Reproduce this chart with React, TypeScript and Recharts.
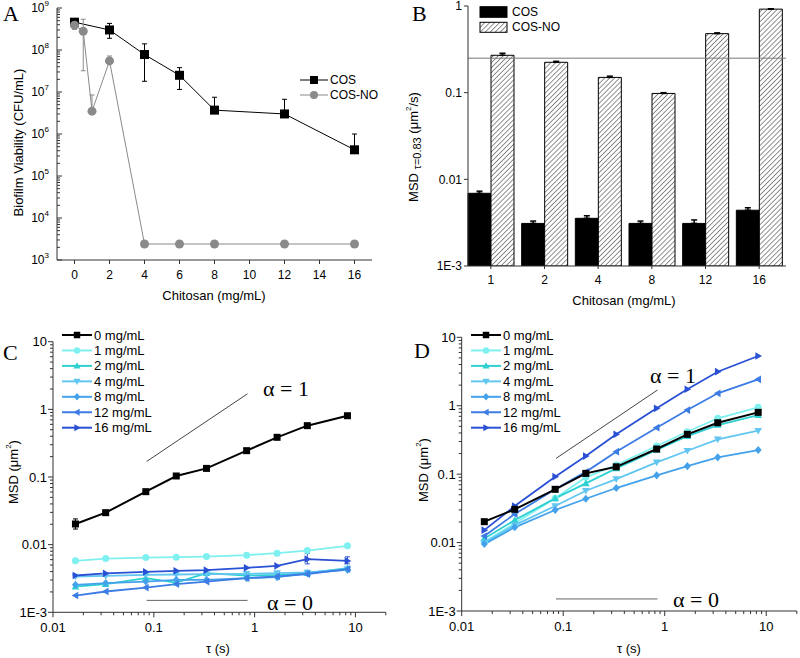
import React from "react";
import {
  LineChart,
  Line,
  BarChart,
  Bar,
  XAxis,
  YAxis,
  ErrorBar,
  ReferenceLine,
  Legend,
} from "recharts";

const SANS = "'Liberation Sans', Arial, Helvetica, sans-serif";
const SERIF = "'Liberation Serif', 'Times New Roman', serif";
const AXIS = "#333";

// ---------- Panel A: biofilm viability ----------
const concCos = [0, 2, 4, 6, 8, 12, 16];
const viabCos = [4.6e8, 3.0e8, 7.8e7, 2.5e7, 3.7e6, 3.0e6, 4.2e5];
const viabCosLow = [3.9e8, 1.9e8, 1.8e7, 1.15e7, 3.7e6, 3.0e6, 4.2e5];
const viabCosHigh = [5.3e8, 4.3e8, 1.4e8, 3.8e7, 7.5e6, 6.7e6, 1.0e6];
const concCosNo = [0, 0.5, 1, 2, 4, 6, 8, 12, 16];
const viabCosNo = [3.9e8, 2.8e8, 3.5e6, 5.5e7, 2.4e3, 2.4e3, 2.4e3, 2.4e3, 2.4e3];
const viabCosNoLow = [3.1e8, 3.2e7, 3.5e6, 5.5e7, 2.4e3, 2.4e3, 2.4e3, 2.4e3, 2.4e3];
const viabCosNoHigh = [4.7e8, 5.4e8, 8.5e6, 7.2e7, 2.4e3, 2.4e3, 2.4e3, 2.4e3, 2.4e3];
const ticksAX = [0, 2, 4, 6, 8, 10, 12, 14, 16];
const decadesA = [1e3, 1e4, 1e5, 1e6, 1e7, 1e8, 1e9];
const minorSteps = [2, 3, 4, 5, 6, 7, 8, 9];

// ---------- Panel B: MSD at tau = 0.83 s ----------
const concB = ["1", "2", "4", "8", "12", "16"];
const msdCos = [6.9e-3, 3.1e-3, 3.55e-3, 3.1e-3, 3.1e-3, 4.4e-3];
const msdCosTop = [7.3e-3, 3.3e-3, 3.8e-3, 3.3e-3, 3.4e-3, 4.7e-3];
const msdCosNo = [0.27, 0.224, 0.15, 0.098, 0.48, 0.92];
const msdCosNoTop = [0.285, 0.23, 0.155, 0.1, 0.49, 0.93];
const msdRefB = 0.25;
const decadesB = [1e-3, 1e-2, 1e-1, 1];

// ---------- Panels C and D: MSD vs lag time ----------
const lagTimes = [0.0167, 0.0333, 0.0833, 0.167, 0.333, 0.833, 1.67, 3.33, 8.33];
const seriesNames = ["0 mg/mL", "1 mg/mL", "2 mg/mL", "4 mg/mL", "8 mg/mL", "12 mg/mL", "16 mg/mL"];
const seriesColors = ["#000000", "#7ff0f0", "#2ed0d2", "#62c6f0", "#44a2ec", "#3c7ce4", "#2a50d4"];
const seriesShapes = ["square", "circle", "up", "down", "diamond", "left", "right"];

const msdC0 = [0.0202, 0.0297, 0.0607, 0.1035, 0.134, 0.245, 0.386, 0.574, 0.805];
const msdC1 = [0.00577, 0.00623, 0.00645, 0.00653, 0.00667, 0.007, 0.00749, 0.00818, 0.0096];
const msdC2 = [0.0024, 0.00261, 0.0032, 0.00275, 0.00379, 0.0035, 0.00358, 0.00379, 0.00449];
const msdC4 = [0.00338, 0.00346, 0.00358, 0.00362, 0.00366, 0.00371, 0.00379, 0.00388, 0.00435];
const msdC8 = [0.00255, 0.0027, 0.00285, 0.00302, 0.00302, 0.0032, 0.00331, 0.00379, 0.00424];
const msdC12 = [0.00177, 0.00203, 0.00232, 0.00261, 0.00285, 0.0032, 0.00338, 0.00366, 0.00435];
const msdC16 = [0.0035, 0.00375, 0.00395, 0.0041, 0.0042, 0.00455, 0.00485, 0.0061, 0.00575];
const errC0 = [[0.017, 0.024], null, null, null, null, null, null, null, null];
const errC16 = [null, null, null, null, null, null, null, [0.0052, 0.0074], [0.0052, 0.0066]];

const msdD0 = [0.0202, 0.0306, 0.06, 0.1026, 0.128, 0.233, 0.382, 0.564, 0.8];
const msdD1 = [0.0103, 0.0191, 0.0443, 0.0898, 0.136, 0.258, 0.417, 0.655, 0.948];
const msdD2 = [0.0115, 0.0213, 0.0443, 0.0733, 0.1216, 0.225, 0.36, 0.522, 0.73];
const msdD4 = [0.0099, 0.018, 0.0342, 0.0572, 0.0848, 0.1486, 0.22, 0.323, 0.431];
const msdD8 = [0.0095, 0.0167, 0.0299, 0.0437, 0.0627, 0.096, 0.131, 0.176, 0.225];
const msdD12 = [0.01245, 0.0261, 0.06, 0.108, 0.213, 0.477, 0.865, 1.52, 2.43];
const msdD16 = [0.0152, 0.0342, 0.0917, 0.184, 0.382, 0.916, 1.74, 3.14, 5.33];

const decadesCDX = [0.01, 0.1, 1, 10];
const decadesCDY = [1e-3, 1e-2, 1e-1, 1, 10];
const alphaX = [0.085, 0.85];
const alphaOneY = [0.17, 1.7];
const alphaZeroY = 0.0015;

// ---------- helpers ----------
function withMinors(decades: number[], max: number) {
  const out: number[] = [];
  decades.forEach((d) => {
    out.push(d);
    minorSteps.forEach((m) => {
      const v = Number((m * d).toPrecision(6));
      if (v <= max) out.push(v);
    });
  });
  return out;
}

function isDecade(v: number) {
  const l = Math.log10(v);
  return Math.abs(l - Math.round(l)) < 1e-6;
}

function markerEl(shape: string, cx: number, cy: number, s: number, color: string, key?: React.Key) {
  const h = s / 2;
  switch (shape) {
    case "square":
      return <rect key={key} x={cx - h} y={cy - h} width={s} height={s} fill={color} />;
    case "circle":
      return <circle key={key} cx={cx} cy={cy} r={h} fill={color} />;
    case "up":
      return <polygon key={key} points={`${cx},${cy - h * 1.1} ${cx + h * 1.1},${cy + h * 0.8} ${cx - h * 1.1},${cy + h * 0.8}`} fill={color} />;
    case "down":
      return <polygon key={key} points={`${cx},${cy + h * 1.1} ${cx + h * 1.1},${cy - h * 0.8} ${cx - h * 1.1},${cy - h * 0.8}`} fill={color} />;
    case "diamond":
      return <polygon key={key} points={`${cx},${cy - h * 1.15} ${cx + h * 1.0},${cy} ${cx},${cy + h * 1.15} ${cx - h * 1.0},${cy}`} fill={color} />;
    case "left":
      return <polygon key={key} points={`${cx - h * 1.1},${cy} ${cx + h * 0.8},${cy - h * 1.1} ${cx + h * 0.8},${cy + h * 1.1}`} fill={color} />;
    default:
      return <polygon key={key} points={`${cx + h * 1.1},${cy} ${cx - h * 0.8},${cy - h * 1.1} ${cx - h * 0.8},${cy + h * 1.1}`} fill={color} />;
  }
}

function makeDot(shape: string, color: string, size: number) {
  return (p: any) => {
    if (p.cx == null || p.cy == null || p.value == null) return <g key={p.index} />;
    return markerEl(shape, p.cx, p.cy, size, color, p.index);
  };
}

type TickOpts = {
  side: "left" | "bottom";
  major: number;
  minor: number;
  inward?: boolean;
  gap: number;
  fontSize: number;
  fmt: (v: number) => React.ReactNode;
};

function makeLogTick(o: TickOpts) {
  return (p: any) => {
    const { x, y, payload } = p;
    const v = payload.value;
    const maj = isDecade(v);
    const len = maj ? o.major : o.minor;
    if (o.side === "left") {
      const dir = o.inward ? 1 : -1;
      return (
        <g>
          <line x1={x} x2={x + dir * len} y1={y} y2={y} stroke={AXIS} strokeWidth={1} />
          {maj && (
            <text x={x - o.gap} y={y} textAnchor="end" dominantBaseline="central" fontSize={o.fontSize} fontFamily={SANS} fill="#000">
              {o.fmt(v)}
            </text>
          )}
        </g>
      );
    }
    return (
      <g>
        <line x1={x} x2={x} y1={y} y2={y + len} stroke={AXIS} strokeWidth={1} />
        {maj && (
          <text x={x} y={y + o.gap} textAnchor="middle" dominantBaseline="central" fontSize={o.fontSize} fontFamily={SANS} fill="#000">
            {o.fmt(v)}
          </text>
        )}
      </g>
    );
  };
}

const fmtPow = (v: number) => (
  <>
    <tspan>10</tspan>
    <tspan dy={-5} fontSize={8}>{Math.round(Math.log10(v))}</tspan>
  </>
);
const fmtPlain = (v: number) => (v === 1e-3 ? "1E-3" : String(v));

// ---------- table building ----------
const errPair = (v: number, lo: number, hi: number) =>
  lo === v && hi === v ? undefined : [v - lo, hi - v];

const rowsCos = concCos.map((x, i) => ({
  x,
  v: viabCos[i],
  err: errPair(viabCos[i], viabCosLow[i], viabCosHigh[i]),
}));
const rowsCosNo = concCosNo.map((x, i) => ({
  x,
  v: viabCosNo[i],
  err: errPair(viabCosNo[i], viabCosNoLow[i], viabCosNoHigh[i]),
}));

const rowsB = concB.map((c, i) => ({
  c,
  cos: msdCos[i],
  cosErr: [0, msdCosTop[i] - msdCos[i]],
  cosNo: msdCosNo[i],
  cosNoErr: [0, msdCosNoTop[i] - msdCosNo[i]],
}));

const seriesC = [msdC0, msdC1, msdC2, msdC4, msdC8, msdC12, msdC16];
const seriesD = [msdD0, msdD1, msdD2, msdD4, msdD8, msdD12, msdD16];

function buildRows(series: number[][], errs: Record<string, (number[] | null)[]>) {
  return lagTimes.map((t, i) => {
    const row: any = { t };
    series.forEach((s, k) => {
      row["s" + k] = s[i];
    });
    Object.keys(errs).forEach((k) => {
      const e = errs[k][i];
      const v = row["s" + k];
      if (e) row["e" + k] = [v - e[0], e[1] - v];
    });
    return row;
  });
}

const rowsC = buildRows(seriesC, { 0: errC0, 6: errC16 });
const rowsD = buildRows(seriesD, {});

// ---------- legends ----------
function LegendA() {
  return (
    <svg width={100} height={36} style={{ overflow: "visible" }}>
      <line x1={4} x2={32} y1={10} y2={10} stroke="#000" strokeWidth={1} />
      {markerEl("square", 18, 10, 8, "#000")}
      <text x={34} y={10} dominantBaseline="central" fontSize={12} fontFamily={SANS}>COS</text>
      <line x1={4} x2={32} y1={25} y2={25} stroke="#8a8a8a" strokeWidth={1} />
      {markerEl("circle", 18, 25, 8, "#8a8a8a")}
      <text x={34} y={25} dominantBaseline="central" fontSize={12} fontFamily={SANS}>COS-NO</text>
    </svg>
  );
}

function LegendB() {
  return (
    <svg width={110} height={36} style={{ overflow: "visible" }}>
      <rect x={2} y={2.7} width={27} height={10.6} fill="#000" stroke="#000" />
      <text x={34} y={8} dominantBaseline="central" fontSize={12} fontFamily={SANS}>COS</text>
      <rect x={2} y={18.3} width={27} height={10} fill="url(#hatchB)" stroke="#000" />
      <text x={34} y={23.3} dominantBaseline="central" fontSize={12} fontFamily={SANS}>COS-NO</text>
    </svg>
  );
}

function LegendCD() {
  return (
    <svg width={130} height={110} style={{ overflow: "visible" }}>
      {seriesNames.map((n, i) => {
        const y = 5 + i * 15.45;
        return (
          <g key={n}>
            <line x1={4} x2={34} y1={y} y2={y} stroke={seriesColors[i]} strokeWidth={2} />
            {markerEl(seriesShapes[i], 19, y, 6.5, seriesColors[i])}
            <text x={36} y={y} dominantBaseline="central" fontSize={13} fontFamily={SANS} fill="#000">
              {n}
            </text>
          </g>
        );
      })}
    </svg>
  );
}

// ---------- panels ----------
function PanelA() {
  const yTicks = withMinors(decadesA, 1e9);
  return (
    <LineChart width={400} height={330} margin={{ top: 8, right: 28, left: 0, bottom: 40 }}>
      <XAxis
        type="number"
        dataKey="x"
        domain={[-1, 17]}
        ticks={ticksAX}
        interval={0}
        allowDataOverflow
        height={30}
        tickSize={4}
        tickMargin={6}
        axisLine={{ stroke: AXIS }}
        tickLine={{ stroke: AXIS }}
        tick={{ fontSize: 12, fontFamily: SANS, fill: "#000" }}
      />
      <YAxis
        type="number"
        scale="log"
        domain={[1e3, 1e9]}
        allowDataOverflow
        ticks={yTicks}
        interval={0}
        width={57}
        tickSize={0}
        tickMargin={0}
        tickLine={false}
        axisLine={{ stroke: AXIS }}
        tick={makeLogTick({ side: "left", major: 5, minor: 3, inward: true, gap: 8, fontSize: 12, fmt: fmtPow })}
      />
      <Line
        data={rowsCos}
        dataKey="v"
        name="COS"
        stroke="#000"
        strokeWidth={1}
        dot={makeDot("square", "#000", 9)}
        isAnimationActive={false}
      >
        <ErrorBar dataKey="err" width={2.5} stroke="#000" strokeWidth={1} direction="y" />
      </Line>
      <Line
        data={rowsCosNo}
        dataKey="v"
        name="COS-NO"
        stroke="#8a8a8a"
        strokeWidth={1}
        dot={makeDot("circle", "#8a8a8a", 9)}
        isAnimationActive={false}
      >
        <ErrorBar dataKey="err" width={2.5} stroke="#8a8a8a" strokeWidth={1} direction="y" />
      </Line>
      <Legend
        layout="vertical"
        align="center"
        verticalAlign="middle"
        wrapperStyle={{ left: 296, top: 70, width: 100, height: 36 }}
        content={() => <LegendA />}
      />
    </LineChart>
  );
}

function PanelB() {
  return (
    <BarChart
      width={400}
      height={330}
      data={rowsB}
      margin={{ top: 6, right: 14, left: 0, bottom: 34 }}
      barCategoryGap={4}
      barGap={0}
    >
      <defs>
        <pattern id="hatchB" patternUnits="userSpaceOnUse" width={3.5} height={3.5} patternTransform="rotate(45)">
          <rect width={3.5} height={3.5} fill="#fff" />
          <line x1={0} y1={0} x2={0} y2={3.5} stroke="#222" strokeWidth={1} />
        </pattern>
      </defs>
      <XAxis
        dataKey="c"
        padding={{ left: -4, right: 0 }}
        height={30}
        tickSize={3}
        tickMargin={6}
        axisLine={{ stroke: AXIS }}
        tickLine={{ stroke: AXIS }}
        tick={{ fontSize: 12, fontFamily: SANS, fill: "#000" }}
      />
      <YAxis
        type="number"
        scale="log"
        domain={[1e-3, 1]}
        allowDataOverflow
        ticks={decadesB}
        interval={0}
        width={68}
        tickSize={4}
        tickMargin={2}
        axisLine={{ stroke: AXIS }}
        tickLine={{ stroke: AXIS }}
        tickFormatter={fmtPlain}
        tick={{ fontSize: 12, fontFamily: SANS, fill: "#000" }}
      />
      <ReferenceLine y={msdRefB} stroke="#777" strokeWidth={1} />
      <Bar dataKey="cos" name="COS" fill="#000" stroke="#000" isAnimationActive={false}>
        <ErrorBar dataKey="cosErr" width={3} stroke="#000" direction="y" />
      </Bar>
      <Bar dataKey="cosNo" name="COS-NO" fill="url(#hatchB)" stroke="#000" isAnimationActive={false}>
        <ErrorBar dataKey="cosNoErr" width={3} stroke="#000" direction="y" />
      </Bar>
      <Legend
        layout="vertical"
        align="center"
        verticalAlign="middle"
        wrapperStyle={{ left: 78, top: 4, width: 110, height: 36 }}
        content={() => <LegendB />}
      />
    </BarChart>
  );
}

function PanelMSD({ rows, left, top, bottom, right, withErr }: any) {
  const xTicks = withMinors(decadesCDX, 20);
  const yTicks = withMinors(decadesCDY, 10);
  const order = [1, 2, 3, 4, 5, 6, 0];
  return (
    <LineChart width={400} height={328} data={rows} margin={{ top, right, left: 0, bottom: bottom - 26 }}>
      <XAxis
        type="number"
        dataKey="t"
        scale="log"
        domain={[0.01, 20]}
        allowDataOverflow
        ticks={xTicks}
        interval={0}
        height={26}
        tickSize={0}
        tickMargin={0}
        tickLine={false}
        axisLine={{ stroke: AXIS }}
        tick={makeLogTick({ side: "bottom", major: 5, minor: 3, gap: 15, fontSize: 13, fmt: fmtPlain })}
      />
      <YAxis
        type="number"
        scale="log"
        domain={[1e-3, 10]}
        allowDataOverflow
        ticks={yTicks}
        interval={0}
        width={left}
        tickSize={0}
        tickMargin={0}
        tickLine={false}
        axisLine={{ stroke: AXIS }}
        tick={makeLogTick({ side: "left", major: 5, minor: 3, gap: 6, fontSize: 13, fmt: fmtPlain })}
      />
      <ReferenceLine
        segment={[
          { x: alphaX[0], y: alphaOneY[0] },
          { x: alphaX[1], y: alphaOneY[1] },
        ]}
        stroke="#444"
        strokeWidth={1}
      />
      <ReferenceLine
        segment={[
          { x: alphaX[0], y: alphaZeroY },
          { x: alphaX[1], y: alphaZeroY },
        ]}
        stroke="#666"
        strokeWidth={1}
      />
      {order.map((k) => (
        <Line
          key={k}
          dataKey={"s" + k}
          name={seriesNames[k]}
          stroke={seriesColors[k]}
          strokeWidth={k === 0 ? 2 : 1.8}
          dot={makeDot(seriesShapes[k], seriesColors[k], 7)}
          isAnimationActive={false}
        >
          {withErr && (k === 0 || k === 6) ? (
            <ErrorBar dataKey={"e" + k} width={2.5} stroke={seriesColors[k]} strokeWidth={1} direction="y" />
          ) : null}
        </Line>
      ))}
      <Legend
        layout="vertical"
        align="center"
        verticalAlign="middle"
        wrapperStyle={{ left: left + 5, top: 0, width: 130, height: 110 }}
        content={() => <LegendCD />}
      />
    </LineChart>
  );
}

function Overlay() {
  const t = { fontFamily: SANS, fontSize: 13, fill: "#000" } as const;
  const serif = { fontFamily: SERIF, fontSize: 22, fill: "#000" } as const;
  return (
    <svg width={800} height={658} style={{ position: "absolute", left: 0, top: 0, pointerEvents: "none" }}>
      <text x={3} y={21} {...serif}>A</text>
      <text x={412} y={21} {...serif}>B</text>
      <text x={3} y={360} {...serif}>C</text>
      <text x={414} y={358} {...serif}>D</text>

      <text x={18} y={142.5} textAnchor="middle" dominantBaseline="central" transform="rotate(-90 18 142.5)" {...t}>
        Biofilm Viability (CFU/mL)
      </text>
      <text x={214} y={295} textAnchor="middle" dominantBaseline="central" {...t}>Chitosan (mg/mL)</text>

      <text x={413} y={147} textAnchor="middle" dominantBaseline="central" transform="rotate(-90 413 147)" {...t}>
        MSD <tspan dy={4} fontSize={11}>τ=0.83</tspan>
        <tspan dy={-4}> (μm</tspan>
        <tspan dy={-5} fontSize={8}>2</tspan>
        <tspan dy={5}>/s)</tspan>
      </text>
      <text x={624} y={300} textAnchor="middle" dominantBaseline="central" {...t}>Chitosan (mg/mL)</text>

      <text x={13} y={472} textAnchor="middle" dominantBaseline="central" transform="rotate(-90 13 472)" {...t}>
        MSD (μm<tspan dy={-5} fontSize={8}>2</tspan>
        <tspan dy={5}>)</tspan>
      </text>
      <text x={218} y={648} textAnchor="middle" dominantBaseline="central" {...t}>τ (s)</text>

      <text x={423} y={470} textAnchor="middle" dominantBaseline="central" transform="rotate(-90 423 470)" {...t}>
        MSD (μm<tspan dy={-5} fontSize={8}>2</tspan>
        <tspan dy={5}>)</tspan>
      </text>
      <text x={629} y={648} textAnchor="middle" dominantBaseline="central" {...t}>τ (s)</text>

      <text x={263} y={396} {...serif}>α = 1</text>
      <text x={267} y={610} {...serif}>α = 0</text>
      <text x={650} y={383} {...serif}>α = 1</text>
      <text x={673} y={607} {...serif}>α = 0</text>
    </svg>
  );
}

export default function App() {
  return (
    <div style={{ position: "absolute", left: 0, top: 0, width: 800, height: 658, background: "#fff", fontFamily: SANS }}>
      <div style={{ position: "absolute", left: 0, top: 0 }}>
        <PanelA />
      </div>
      <div style={{ position: "absolute", left: 400, top: 0 }}>
        <PanelB />
      </div>
      <div style={{ position: "absolute", left: 0, top: 330 }}>
        <PanelMSD rows={rowsC} left={53} top={11.7} bottom={45.7} right={14.2} withErr />
      </div>
      <div style={{ position: "absolute", left: 400, top: 330 }}>
        <PanelMSD rows={rowsD} left={61.7} top={7.3} bottom={47} right={3.2} />
      </div>
      <Overlay />
    </div>
  );
}
